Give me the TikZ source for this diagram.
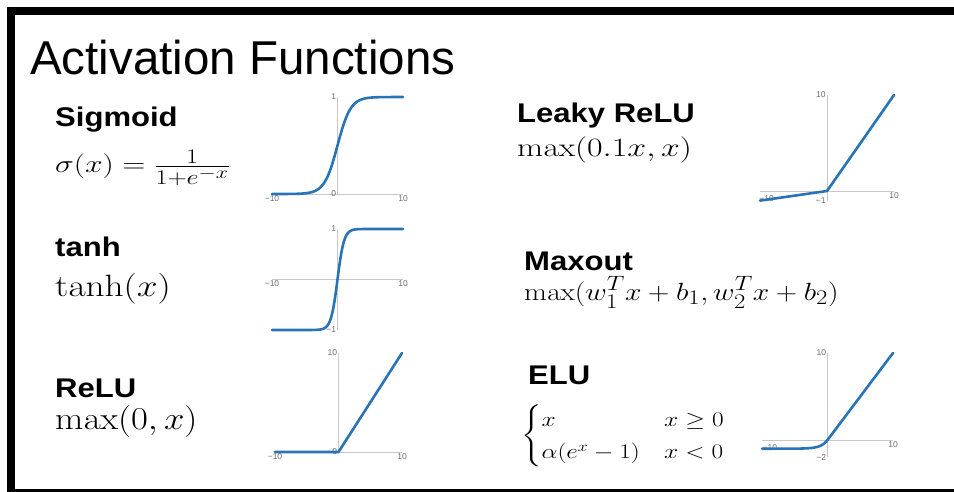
\documentclass[tikz,border=0pt]{standalone}
\usepackage{amsmath}
\usepackage[no-math]{fontspec}
\newfontfamily\hfont{Liberation Sans}
\definecolor{curveblue}{RGB}{41,116,182}
\definecolor{axisgray}{RGB}{200,200,200}
\definecolor{tickgray}{RGB}{110,110,110}
\tikzset{
  axisline/.style={draw=axisgray, line width=0.8pt},
  curveline/.style={draw=curveblue, line width=2.6pt, line join=round, line cap=round},
  tick/.style={text=tickgray, font=\hfont\fontsize{8.5}{9}\selectfont, inner sep=1.2pt},
  heading/.style={anchor=base west, inner sep=0pt, font=\hfont\bfseries\fontsize{27}{32}\selectfont},
  formula/.style={anchor=base west, inner sep=0pt, font=\fontsize{24.88}{30}\selectfont},
}
\newcommand{\hstretch}[2]{\scalebox{#1}[1]{#2}}
\newcommand{\fml}[3]{\scalebox{#1}[#2]{#3}}
\begin{document}
\begin{tikzpicture}[x=1pt,y=-1pt]
\useasboundingbox (0,0) rectangle (954,492);
\fill[white] (0,0) rectangle (954,492);
\fill[black] (7,7) rectangle (954,492);
\fill[white] (15,15) rectangle (954,489);

\node[anchor=base west, inner sep=0pt, font=\hfont\fontsize{47.5}{56}\selectfont] (title) at (30,75) {Activation Functions};

% left column text
\node[heading] (sigh) at (55,127) {\hstretch{1.15}{Sigmoid}};
\node[formula] (sigf) at (55,173) {\fml{1.27}{1}{$\sigma(x)=\frac{1}{1+e^{-x}}$}};
\node[heading] (tanhh) at (55,256) {\hstretch{1.15}{tanh}};
\node[formula] (tanhf) at (55,296) {\fml{1.50}{1.24}{$\tanh(x)$}};
\node[heading] (reluh) at (55,397) {\hstretch{1.15}{ReLU}};
\node[formula] (reluf) at (55,429) {\fml{1.475}{1.28}{$\max(0,x)$}};

% right column text
\node[heading] (lreluh) at (517,123) {\hstretch{1.15}{Leaky ReLU}};
\node[formula] (lreluf) at (517,157) {\fml{1.36}{1.06}{$\max(0.1x,x)$}};
\node[heading] (maxh) at (524,270) {\hstretch{1.15}{Maxout}};
\node[formula] (maxf) at (524,300) {\fml{1.19}{1}{$\max(w_1^Tx+b_1,w_2^Tx+b_2)$}};
\node[heading] (eluh) at (528,384) {\hstretch{1.15}{ELU}};
\node[anchor=west, inner sep=0pt, font=\fontsize{20}{27}\selectfont] (eluf) at (521,436)
  {\hstretch{1.22}{$\begin{cases} x & x\geq 0\\ \alpha(e^x-1) & x<0\end{cases}$}};

% Sigmoid plot
\begin{scope}[shift={(337.5,194)}, x=6.55pt, y=97pt]
  \draw[axisline] (-10,0) -- (10,0);
  \draw[axisline] (0,0) -- (0,1);
  \node[tick, anchor=east] (s1) at (0,1) {1};
  \node[tick, anchor=east] (s0) at (0,0) {0};
  \node[tick, anchor=north] (sm10) at (-10,0) {−10};
  \node[tick, anchor=north] (s10) at (10,0) {10};
  \draw[curveline] (-10,0) -- plot[domain=-8:8, samples=97, smooth] (\x, {1/(1+exp(-\x))}) -- (10,1);
\end{scope}

% tanh plot
\begin{scope}[shift={(337.5,279.5)}, x=6.55pt, y=50.5pt]
  \draw[axisline] (-10,0) -- (10,0);
  \draw[axisline] (0,-1) -- (0,1);
  \node[tick, anchor=east] (t1) at (0,1) {1};
  \node[tick, anchor=east] (tm1) at (0,-1) {−1};
  \node[tick, anchor=north] (tm10) at (-10,0) {−10};
  \node[tick, anchor=north] (t10) at (10,0) {10};
  \draw[curveline] (-10,-1) -- plot[domain=-4.5:4.5, samples=91, smooth] (\x, {(exp(2*\x)-1)/(exp(2*\x)+1)}) -- (10,1);
\end{scope}

% ReLU plot
\begin{scope}[shift={(338.5,452)}, x=6.35pt, y=9.9pt]
  \draw[axisline] (-10,0) -- (10,0);
  \draw[axisline] (0,0) -- (0,10);
  \node[tick, anchor=east] (r10y) at (0,10) {10};
  \node[tick, anchor=east] (r0) at (0,0) {0};
  \node[tick, anchor=north] (rm10) at (-10,0) {−10};
  \node[tick, anchor=north] (r10) at (10,0) {10};
  \draw[curveline] (-10,0) -- (0,0) -- (10,10);
\end{scope}

% Leaky ReLU plot
\begin{scope}[shift={(827,191)}, x=6.7pt, y=9.6pt]
  \draw[axisline] (-10,0) -- (10,0);
  \draw[axisline] (0,-1) -- (0,10);
  \node[tick, anchor=east] (l10y) at (0,10) {10};
  \node[tick, anchor=east] (lm1) at (0,-1) {−1};
  \node[tick] (lm10) at (-9,-0.75) {−10};
  \node[tick, anchor=north] (l10) at (10,0) {10};
  \draw[curveline] (-10,-1) -- (0,0) -- (10,10);
\end{scope}

% ELU plot
\begin{scope}[shift={(827.5,440)}, x=6.55pt, y=8.7pt]
  \draw[axisline] (-10,0) -- (10,0);
  \draw[axisline] (0,-2) -- (0,10);
  \node[tick, anchor=east] (e10y) at (0,10) {10};
  \node[tick, anchor=east] (em2) at (0,-2) {−2};
  \node[tick] (em10) at (-8.8,-0.9) {−10};
  \node[tick, anchor=north] (e10) at (10,0) {10};
  \draw[curveline] plot[domain=-10:0, samples=81, smooth] (\x, {exp(\x)-1}) -- (10,10);
\end{scope}
\end{tikzpicture}
\end{document}
